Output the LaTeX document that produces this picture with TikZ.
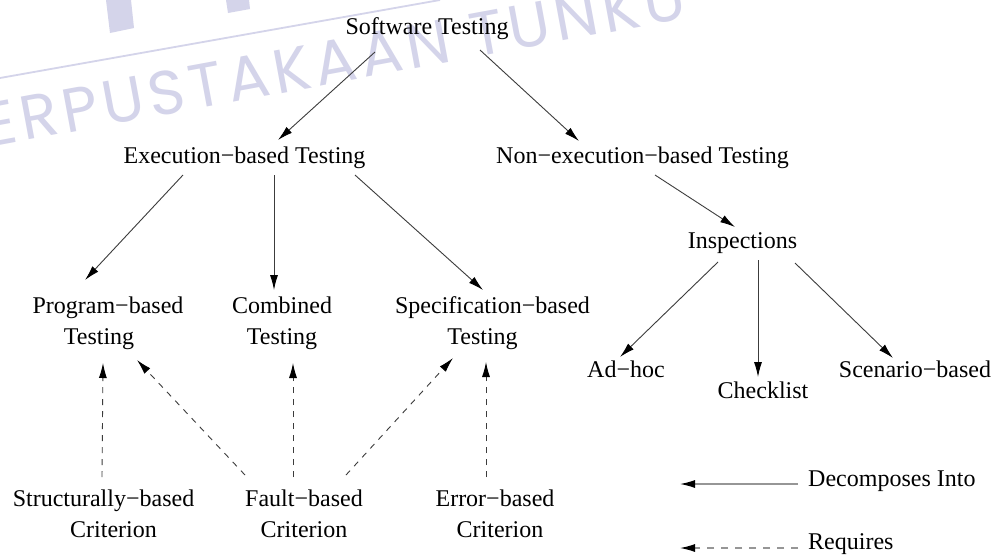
\documentclass[tikz,border=0pt]{standalone}
\usepackage{fontspec}
\setmainfont{Liberation Serif}
\newfontfamily\wmfont[LetterSpace=8]{Poppins}
\usetikzlibrary{arrows.meta,calc}
\definecolor{wm}{RGB}{212,212,234}
\definecolor{ln}{RGB}{60,60,60}
\definecolor{lg}{RGB}{150,150,150}
\tikzset{
  lbl/.style={font=\fontsize{24}{31}\selectfont, inner sep=0pt, align=center},
  dec/.style={draw=ln, line width=0.9pt, -{Latex[length=15pt,width=8pt,color=black]}},
  req/.style={dec, dash pattern=on 6pt off 6pt},
  legdec/.style={dec, draw=lg, line width=1.2pt},
  legreq/.style={legdec, dash pattern=on 7pt off 7pt},
}
\begin{document}
\begin{tikzpicture}[x=1pt,y=-1pt]
\useasboundingbox (0,0) rectangle (996,555);
\clip (0,0) rectangle (996,555);
\fill[white] (0,0) rectangle (996,555);
% watermark
\fill[wm] (106,0) -- (131,0) -- (134,28) -- (110,33) -- cycle;
\fill[wm] (226,0) -- (249,0) -- (250,9) -- (228,13) -- cycle;
\draw[wm, line width=1.8pt] (0,78) -- (440,0);
\node[text=wm, font=\wmfont\fontsize{62}{62}\selectfont, anchor=base west, rotate=10.5, inner sep=0pt] (wmt) at (-52,155) {PERPUSTAKAAN TUNKU};
% nodes
\node[lbl, anchor=base] (st) at (427,34) {Software Testing};
\node[lbl, anchor=base] (ex) at (244.5,163) {Execution−based Testing};
\node[lbl, anchor=base] (nx) at (642.5,163) {Non−execution−based Testing};
\node[lbl, anchor=base] (in) at (742.5,248) {Inspections};
\node[lbl] (pb) at (108,323) {Program−based\\Testing\hspace*{18pt}};
\node[lbl] (cb) at (282,323) {Combined\\Testing};
\node[lbl] (sb) at (492.5,323) {Specification−based\\Testing\hspace*{20pt}};
\node[lbl, anchor=base] (ah) at (626,377) {Ad−hoc};
\node[lbl, anchor=base] (ck) at (763,398) {Checklist};
\node[lbl, anchor=base] (sc) at (915,377) {Scenario−based};
\node[lbl] (scr) at (103.5,514) {Structurally−based\\\hspace*{20pt}Criterion};
\node[lbl] (fc) at (304,514) {Fault−based\\Criterion};
\node[lbl] (ec) at (495,514) {Error−based\\\hspace*{10pt}Criterion};
\node[lbl, anchor=base west] (ld) at (808,486) {Decomposes Into};
\node[lbl, anchor=base west] (lr) at (808,549) {Requires};
% decomposes into
\draw[dec] ($(st.base)+(-52,18)$) -- ($(ex.base)+(33.5,-23)$);
\draw[dec] ($(st.base)+(53,16)$) -- ($(nx.base)+(-63.5,-22)$);
\draw[dec] ($(ex.base)+(-61.5,12)$) -- ($(pb.center)+(-23,-43)$);
\draw[dec] ($(ex.base)+(29.5,12)$) -- ($(cb.center)+(-8,-33)$);
\draw[dec] ($(ex.base)+(110.5,12)$) -- ($(sb.center)+(-9.5,-33)$);
\draw[dec] ($(nx.base)+(12.5,12)$) -- ($(in.base)+(-7.5,-21)$);
\draw[dec] ($(in.base)+(-24.5,14)$) -- ($(ah.base)+(-6,-20)$);
\draw[dec] ($(in.base)+(15.5,12)$) -- ($(ck.base)+(-5,-21)$);
\draw[dec] ($(in.base)+(52.5,15)$) -- ($(sc.base)+(-22,-19)$);
% requires
\draw[req] ($(scr.center)+(-1.5,-37)$) -- ($(pb.center)+(-5,40)$);
\draw[req] ($(fc.center)+(-59,-39)$) -- ($(pb.center)+(29,37)$);
\draw[req] ($(fc.center)+(-11,-37)$) -- ($(cb.center)+(11,40)$);
\draw[req] ($(fc.center)+(42,-39)$) -- ($(sb.center)+(-39.5,35)$);
\draw[req] ($(ec.center)+(-9,-37)$) -- ($(sb.center)+(-6.5,39)$);
% legend
\coordinate (l1) at (680,484);
\coordinate (l2) at (680,548);
\draw[legdec] ($(ld.base west)+(-10,-2)$) -- (l1);
\draw[legreq] ($(lr.base west)+(-10,-1)$) -- (l2);
\end{tikzpicture}
\end{document}
